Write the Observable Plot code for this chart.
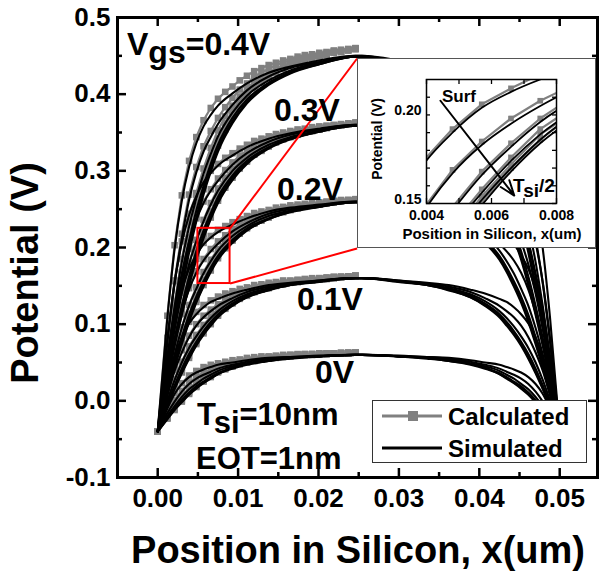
<!DOCTYPE html>
<html><head><meta charset="utf-8">
<script src="https://cdn.jsdelivr.net/npm/d3@7"></script>
<script src="https://cdn.jsdelivr.net/npm/@observablehq/plot@0.6"></script>
<style>
body{margin:0;background:#fff;}
#wrap{position:relative;width:600px;height:576px;overflow:hidden;font-family:"Liberation Sans",Arial,sans-serif;font-weight:bold;color:#000;}
.t{position:absolute;white-space:nowrap;line-height:1;}
.sub{position:relative;}
</style></head><body><div id="wrap"></div>
<script>
// ---------------- data ----------------
const vgsFamilies = ["0V","0.1V","0.2V","0.3V","0.4V"];
const depthLabels = ["Surf","d2","d3","d4","d5","Tsi/2"];
const xCalc = [0,0.0012,0.0021,0.0030,0.0039,0.0048,0.0057,0.0066,0.0075,0.0084,0.0093,0.0102,0.0111,0.0120,0.0129,0.0138,0.0147,0.0156,0.0165,0.0174,0.0183,0.0192,0.0201,0.0210,0.0219,0.0228,0.0237,0.0246];
const xSim = [0,0.0012,0.0021,0.0030,0.0039,0.0048,0.0057,0.0066,0.0075,0.0093,0.0111,0.0138,0.0165,0.0201,0.0246,0.0254,0.0299,0.0335,0.0362,0.0389,0.0407,0.0425,0.0434,0.0443,0.0452,0.0461,0.0470,0.0479,0.0488,0.0500];

// Calculated (gray squares), one array per depth, Surf -> Tsi/2
const calc0V = [
[-0.04,-0.009,0.01,0.023,0.033,0.039,0.044,0.047,0.049,0.051,0.053,0.054,0.056,0.057,0.058,0.058,0.059,0.06,0.06,0.061,0.061,0.061,0.062,0.062,0.062,0.063,0.063,0.063],
[-0.04,-0.016,0.001,0.013,0.024,0.031,0.037,0.041,0.044,0.047,0.05,0.052,0.054,0.055,0.056,0.057,0.058,0.059,0.06,0.06,0.061,0.061,0.061,0.062,0.062,0.062,0.063,0.063],
[-0.04,-0.019,-0.006,0.006,0.016,0.024,0.031,0.036,0.041,0.045,0.047,0.05,0.052,0.054,0.055,0.056,0.057,0.058,0.059,0.06,0.06,0.061,0.061,0.061,0.062,0.062,0.062,0.063],
[-0.04,-0.022,-0.009,0.002,0.012,0.02,0.027,0.033,0.039,0.043,0.046,0.049,0.051,0.053,0.054,0.056,0.057,0.058,0.059,0.059,0.06,0.06,0.061,0.061,0.062,0.062,0.062,0.063],
[-0.04,-0.023,-0.01,0,0.01,0.019,0.026,0.032,0.038,0.042,0.045,0.048,0.05,0.052,0.054,0.055,0.057,0.058,0.058,0.059,0.06,0.06,0.061,0.061,0.062,0.062,0.062,0.063],
[-0.04,-0.023,-0.012,-0.001,0.009,0.018,0.025,0.031,0.037,0.041,0.045,0.048,0.05,0.052,0.054,0.055,0.056,0.057,0.058,0.059,0.06,0.06,0.061,0.061,0.062,0.062,0.062,0.063]];
const calc01V = [
[-0.04,0.021,0.059,0.085,0.103,0.116,0.125,0.131,0.136,0.14,0.143,0.146,0.148,0.151,0.152,0.154,0.155,0.157,0.157,0.158,0.159,0.16,0.16,0.161,0.162,0.162,0.162,0.163],
[-0.04,0.008,0.04,0.066,0.085,0.1,0.111,0.119,0.126,0.132,0.137,0.141,0.144,0.148,0.15,0.152,0.154,0.155,0.156,0.157,0.158,0.159,0.16,0.16,0.161,0.162,0.162,0.163],
[-0.04,0.001,0.028,0.051,0.071,0.086,0.099,0.11,0.12,0.127,0.132,0.137,0.141,0.145,0.147,0.15,0.152,0.154,0.155,0.157,0.158,0.158,0.159,0.16,0.161,0.161,0.162,0.163],
[-0.04,-0.004,0.021,0.043,0.063,0.079,0.093,0.105,0.115,0.123,0.129,0.135,0.139,0.143,0.146,0.148,0.151,0.153,0.154,0.156,0.157,0.158,0.159,0.16,0.161,0.161,0.162,0.163],
[-0.04,-0.006,0.018,0.039,0.059,0.076,0.09,0.102,0.113,0.121,0.128,0.134,0.138,0.142,0.145,0.148,0.15,0.152,0.154,0.155,0.157,0.157,0.158,0.159,0.16,0.161,0.162,0.163],
[-0.04,-0.007,0.016,0.037,0.056,0.074,0.088,0.1,0.111,0.12,0.127,0.133,0.137,0.142,0.145,0.147,0.15,0.152,0.154,0.155,0.157,0.157,0.158,0.159,0.16,0.161,0.162,0.163]];
const calc02V = [
[-0.04,0.052,0.107,0.146,0.174,0.192,0.206,0.215,0.223,0.228,0.233,0.237,0.241,0.245,0.247,0.249,0.252,0.253,0.255,0.256,0.257,0.258,0.259,0.26,0.261,0.262,0.262,0.263],
[-0.04,0.032,0.079,0.116,0.147,0.169,0.185,0.198,0.208,0.216,0.224,0.23,0.235,0.24,0.243,0.246,0.249,0.252,0.253,0.254,0.256,0.257,0.258,0.259,0.26,0.261,0.262,0.263],
[-0.04,0.021,0.061,0.096,0.125,0.148,0.168,0.184,0.198,0.209,0.217,0.225,0.231,0.236,0.24,0.243,0.247,0.249,0.251,0.253,0.255,0.256,0.257,0.259,0.26,0.261,0.261,0.262],
[-0.04,0.014,0.051,0.084,0.113,0.138,0.158,0.176,0.192,0.203,0.213,0.221,0.228,0.234,0.237,0.241,0.245,0.248,0.25,0.252,0.254,0.255,0.256,0.258,0.259,0.26,0.261,0.262],
[-0.04,0.011,0.047,0.078,0.107,0.132,0.154,0.172,0.189,0.2,0.21,0.22,0.226,0.232,0.236,0.24,0.244,0.247,0.249,0.252,0.254,0.255,0.256,0.258,0.259,0.26,0.261,0.262],
[-0.04,0.009,0.044,0.075,0.104,0.129,0.151,0.17,0.186,0.199,0.209,0.218,0.225,0.231,0.235,0.239,0.244,0.246,0.249,0.251,0.253,0.255,0.256,0.258,0.259,0.26,0.261,0.262]];
const calc03V = [
[-0.04,0.082,0.156,0.208,0.244,0.269,0.287,0.3,0.309,0.317,0.323,0.329,0.334,0.339,0.342,0.345,0.348,0.35,0.352,0.354,0.355,0.357,0.358,0.359,0.36,0.361,0.362,0.363],
[-0.04,0.055,0.119,0.168,0.209,0.238,0.26,0.276,0.29,0.301,0.311,0.32,0.326,0.333,0.337,0.341,0.345,0.348,0.35,0.352,0.354,0.355,0.357,0.358,0.359,0.36,0.361,0.363],
[-0.04,0.041,0.094,0.141,0.18,0.21,0.236,0.258,0.277,0.291,0.302,0.312,0.32,0.327,0.332,0.337,0.341,0.345,0.347,0.35,0.352,0.354,0.355,0.357,0.359,0.36,0.361,0.362],
[-0.04,0.032,0.082,0.125,0.164,0.197,0.224,0.247,0.268,0.284,0.296,0.308,0.316,0.324,0.329,0.334,0.339,0.343,0.346,0.349,0.351,0.353,0.354,0.356,0.358,0.359,0.361,0.362],
[-0.04,0.027,0.076,0.117,0.156,0.189,0.218,0.242,0.264,0.28,0.293,0.305,0.313,0.322,0.327,0.332,0.338,0.342,0.345,0.348,0.351,0.352,0.354,0.356,0.358,0.359,0.361,0.362],
[-0.04,0.025,0.072,0.113,0.151,0.185,0.214,0.239,0.261,0.278,0.291,0.303,0.312,0.321,0.326,0.332,0.337,0.341,0.344,0.347,0.35,0.352,0.354,0.356,0.358,0.359,0.361,0.362]];
const calc04V = [
[-0.04,0.111,0.203,0.268,0.313,0.344,0.366,0.382,0.394,0.403,0.41,0.418,0.424,0.43,0.434,0.438,0.441,0.444,0.446,0.449,0.451,0.452,0.454,0.455,0.457,0.458,0.459,0.46],
[-0.04,0.078,0.157,0.218,0.269,0.305,0.332,0.352,0.369,0.383,0.395,0.406,0.414,0.423,0.428,0.433,0.438,0.441,0.444,0.446,0.449,0.451,0.452,0.454,0.456,0.457,0.458,0.46],
[-0.04,0.06,0.127,0.185,0.233,0.271,0.303,0.33,0.353,0.371,0.385,0.397,0.407,0.416,0.422,0.428,0.433,0.437,0.441,0.444,0.447,0.449,0.451,0.453,0.455,0.456,0.458,0.459],
[-0.04,0.049,0.111,0.165,0.213,0.254,0.287,0.317,0.342,0.362,0.377,0.392,0.402,0.412,0.418,0.424,0.431,0.435,0.439,0.442,0.445,0.448,0.45,0.452,0.454,0.456,0.458,0.459],
[-0.04,0.044,0.104,0.155,0.203,0.245,0.281,0.311,0.337,0.357,0.374,0.389,0.399,0.409,0.416,0.422,0.429,0.434,0.438,0.441,0.445,0.447,0.449,0.451,0.454,0.455,0.457,0.459],
[-0.04,0.041,0.099,0.15,0.198,0.24,0.276,0.306,0.333,0.354,0.371,0.386,0.397,0.408,0.415,0.421,0.428,0.433,0.437,0.441,0.444,0.446,0.449,0.451,0.454,0.455,0.457,0.459]];

// Simulated (black lines), x = xSim, Surf -> Tsi/2
const sim0V = [
[-0.04,-0.01,0.009,0.022,0.031,0.037,0.041,0.044,0.047,0.05,0.053,0.056,0.057,0.059,0.06, 0.06,0.059,0.057,0.056,0.053,0.05,0.047,0.044,0.041,0.037,0.031,0.022,0.009,-0.01,-0.04],
[-0.04,-0.016,-0.001,0.012,0.022,0.029,0.034,0.038,0.042,0.047,0.051,0.055,0.057,0.058,0.06, 0.06,0.058,0.057,0.055,0.051,0.047,0.042,0.038,0.034,0.029,0.022,0.012,-0.001,-0.016,-0.04],
[-0.04,-0.02,-0.007,0.005,0.015,0.022,0.029,0.034,0.039,0.045,0.049,0.054,0.056,0.058,0.06, 0.06,0.058,0.056,0.054,0.049,0.045,0.039,0.034,0.029,0.022,0.015,0.005,-0.007,-0.02,-0.04],
[-0.04,-0.022,-0.01,0.001,0.011,0.019,0.025,0.031,0.036,0.043,0.048,0.053,0.056,0.058,0.06, 0.06,0.058,0.056,0.053,0.048,0.043,0.036,0.031,0.025,0.019,0.011,0.001,-0.01,-0.022,-0.04],
[-0.04,-0.023,-0.011,-0.001,0.009,0.017,0.024,0.03,0.035,0.043,0.048,0.052,0.056,0.058,0.06, 0.06,0.058,0.056,0.052,0.048,0.043,0.035,0.03,0.024,0.017,0.009,-0.001,-0.011,-0.023,-0.04],
[-0.04,-0.024,-0.012,-0.002,0.008,0.016,0.023,0.029,0.035,0.042,0.047,0.052,0.055,0.058,0.06, 0.06,0.058,0.055,0.052,0.047,0.042,0.035,0.029,0.023,0.016,0.008,-0.002,-0.012,-0.024,-0.04]];
const sim01V = [
[-0.04,0.02,0.057,0.083,0.101,0.113,0.122,0.129,0.133,0.14,0.145,0.151,0.154,0.157,0.16, 0.16,0.157,0.154,0.151,0.145,0.14,0.133,0.129,0.122,0.113,0.101,0.083,0.057,0.02,-0.04],
[-0.04,0.007,0.039,0.063,0.083,0.098,0.109,0.117,0.124,0.134,0.142,0.149,0.153,0.157,0.16, 0.16,0.157,0.153,0.149,0.142,0.134,0.124,0.117,0.109,0.098,0.083,0.063,0.039,0.007,-0.04],
[-0.04,0,0.027,0.05,0.069,0.084,0.097,0.108,0.117,0.13,0.139,0.147,0.152,0.156,0.16, 0.16,0.156,0.152,0.147,0.139,0.13,0.117,0.108,0.097,0.084,0.069,0.05,0.027,0,-0.04],
[-0.04,-0.004,0.02,0.042,0.061,0.077,0.091,0.103,0.113,0.127,0.137,0.146,0.151,0.156,0.16, 0.16,0.156,0.151,0.146,0.137,0.127,0.113,0.103,0.091,0.077,0.061,0.042,0.02,-0.004,-0.04],
[-0.04,-0.007,0.017,0.038,0.057,0.074,0.088,0.1,0.111,0.125,0.135,0.145,0.151,0.156,0.16, 0.16,0.156,0.151,0.145,0.135,0.125,0.111,0.1,0.088,0.074,0.057,0.038,0.017,-0.007,-0.04],
[-0.04,-0.008,0.015,0.036,0.055,0.072,0.086,0.098,0.109,0.124,0.135,0.144,0.151,0.155,0.16, 0.16,0.155,0.151,0.144,0.135,0.124,0.109,0.098,0.086,0.072,0.055,0.036,0.015,-0.008,-0.04]];
const sim02V = [
[-0.04,0.051,0.106,0.145,0.172,0.19,0.204,0.213,0.22,0.23,0.238,0.247,0.252,0.256,0.26, 0.26,0.256,0.252,0.247,0.238,0.23,0.22,0.213,0.204,0.19,0.172,0.145,0.106,0.051,-0.04],
[-0.04,0.031,0.078,0.115,0.145,0.167,0.183,0.195,0.205,0.221,0.232,0.244,0.25,0.255,0.26, 0.26,0.255,0.25,0.244,0.232,0.221,0.205,0.195,0.183,0.167,0.145,0.115,0.078,0.031,-0.04],
[-0.04,0.02,0.06,0.095,0.124,0.146,0.166,0.182,0.196,0.215,0.228,0.241,0.248,0.254,0.259, 0.259,0.254,0.248,0.241,0.228,0.215,0.196,0.182,0.166,0.146,0.124,0.095,0.06,0.02,-0.04],
[-0.04,0.013,0.051,0.083,0.112,0.136,0.156,0.174,0.189,0.21,0.225,0.238,0.247,0.254,0.259, 0.259,0.254,0.247,0.238,0.225,0.21,0.189,0.174,0.156,0.136,0.112,0.083,0.051,0.013,-0.04],
[-0.04,0.01,0.046,0.077,0.106,0.131,0.152,0.17,0.186,0.208,0.223,0.237,0.247,0.253,0.259, 0.259,0.253,0.247,0.237,0.223,0.208,0.186,0.17,0.152,0.131,0.106,0.077,0.046,0.01,-0.04],
[-0.04,0.008,0.043,0.074,0.103,0.128,0.149,0.168,0.184,0.206,0.222,0.237,0.246,0.253,0.259, 0.259,0.253,0.246,0.237,0.222,0.206,0.184,0.168,0.149,0.128,0.103,0.074,0.043,0.008,-0.04]];
const sim03V = [
[-0.04,0.081,0.154,0.206,0.242,0.267,0.285,0.297,0.307,0.32,0.331,0.342,0.349,0.355,0.36, 0.36,0.355,0.349,0.342,0.331,0.32,0.307,0.297,0.285,0.267,0.242,0.206,0.154,0.081,-0.04],
[-0.04,0.054,0.118,0.166,0.207,0.236,0.258,0.274,0.287,0.308,0.323,0.338,0.347,0.354,0.36, 0.36,0.354,0.347,0.338,0.323,0.308,0.287,0.274,0.258,0.236,0.207,0.166,0.118,0.054,-0.04],
[-0.04,0.04,0.093,0.14,0.178,0.208,0.234,0.256,0.274,0.3,0.317,0.334,0.344,0.352,0.359, 0.359,0.352,0.344,0.334,0.317,0.3,0.274,0.256,0.234,0.208,0.178,0.14,0.093,0.04,-0.04],
[-0.04,0.031,0.081,0.124,0.162,0.195,0.222,0.245,0.266,0.294,0.313,0.331,0.343,0.352,0.359, 0.359,0.352,0.343,0.331,0.313,0.294,0.266,0.245,0.222,0.195,0.162,0.124,0.081,0.031,-0.04],
[-0.04,0.027,0.075,0.116,0.154,0.188,0.216,0.24,0.262,0.291,0.311,0.33,0.342,0.351,0.359, 0.359,0.351,0.342,0.33,0.311,0.291,0.262,0.24,0.216,0.188,0.154,0.116,0.075,0.027,-0.04],
[-0.04,0.024,0.071,0.112,0.15,0.184,0.212,0.237,0.258,0.288,0.309,0.329,0.341,0.351,0.359, 0.359,0.351,0.341,0.329,0.309,0.288,0.258,0.237,0.212,0.184,0.15,0.112,0.071,0.024,-0.04]];
const sim04V = [
[-0.04,0.108,0.198,0.261,0.305,0.336,0.358,0.373,0.385,0.401,0.414,0.428,0.436,0.444,0.45, 0.45,0.444,0.436,0.428,0.414,0.401,0.385,0.373,0.358,0.336,0.305,0.261,0.198,0.108,-0.04],
[-0.04,0.076,0.153,0.212,0.262,0.298,0.325,0.344,0.361,0.386,0.405,0.423,0.434,0.442,0.45, 0.45,0.442,0.434,0.423,0.405,0.386,0.361,0.344,0.325,0.298,0.262,0.212,0.153,0.076,-0.04],
[-0.04,0.058,0.123,0.181,0.227,0.264,0.296,0.322,0.345,0.376,0.398,0.418,0.431,0.441,0.449, 0.449,0.441,0.431,0.418,0.398,0.376,0.345,0.322,0.296,0.264,0.227,0.181,0.123,0.058,-0.04],
[-0.04,0.047,0.108,0.161,0.208,0.248,0.28,0.309,0.334,0.369,0.393,0.415,0.429,0.44,0.449, 0.449,0.44,0.429,0.415,0.393,0.369,0.334,0.309,0.28,0.248,0.208,0.161,0.108,0.047,-0.04],
[-0.04,0.042,0.101,0.151,0.198,0.239,0.274,0.303,0.329,0.365,0.39,0.413,0.428,0.439,0.449, 0.449,0.439,0.428,0.413,0.39,0.365,0.329,0.303,0.274,0.239,0.198,0.151,0.101,0.042,-0.04],
[-0.04,0.039,0.096,0.146,0.193,0.234,0.269,0.299,0.325,0.362,0.388,0.412,0.427,0.439,0.449, 0.449,0.439,0.427,0.412,0.388,0.362,0.325,0.299,0.269,0.234,0.193,0.146,0.096,0.039,-0.04]];

// axis ticks
const yMajor = [-0.1,0,0.1,0.2,0.3,0.4,0.5];
const yMinor = [-0.05,0.05,0.15,0.25,0.35,0.45];
const xMajor = [0,0.01,0.02,0.03,0.04,0.05];
const xMinor = [0.005,0.015,0.025,0.035,0.045];
const insetXTicks = [0.004,0.005,0.006,0.007,0.008];
const insetXLabels = [0.004,0.006,0.008];
const insetYLabels = [0.15,0.20];
const insetYTicks = [0.16,0.17,0.18,0.19,0.21];

// annotation anchors (data coordinates)
const zoomBox = [{x1:0.005,x2:0.009,y1:0.153,y2:0.225}];
const zoomLinks = [{x1:0.009,y1:0.225,x2:0.0248,y2:0.4465},{x1:0.009,y1:0.153,x2:0.0248,y2:0.1987}];
const surfArrow = [{x1:0.00443,y1:0.208,x2:0.0067,y2:0.1545}];

// ---------------- build ----------------
const calcFams = [calc0V,calc01V,calc02V,calc03V,calc04V];
const simFams = [sim0V,sim01V,sim02V,sim03V,sim04V];
function toRows(xs, fams, famIdx){
  const out=[];
  fams.forEach((fam,fi)=>{ if(famIdx!=null && fi!==famIdx) return;
    fam.forEach((ys,di)=>ys.forEach((y,i)=>out.push({x:xs[i],y,vgs:vgsFamilies[fi],depth:depthLabels[di],key:fi+"-"+di})));});
  return out;
}
const calcRows = toRows(xCalc, calcFams);
const simRows = toRows(xSim, simFams);
const calcInset = toRows(xCalc, calcFams, 2);
const simInset = toRows(xSim, simFams, 2);

const FONT = '"Liberation Sans", Arial, sans-serif';
const W = 600, H = 576, mL = 117, mR = 3, mT = 17, mB = 99;
const iw = W - mL - mR, ih = H - mT - mB;

const main = Plot.plot({
  width: W, height: H, marginLeft: mL, marginRight: mR, marginTop: mT, marginBottom: mB,
  x: {domain: [-0.005, 0.0547]},
  y: {domain: [-0.1, 0.5]},
  style: {fontFamily: FONT, fontWeight: "bold", background: "white", color: "black", overflow: "visible"},
  marks: [
    Plot.line(calcRows, {x: "x", y: "y", z: "key", stroke: "#808080", strokeWidth: 2.2}),
    Plot.dot(calcRows, {x: "x", y: "y", symbol: "square", fill: "#808080", r: 3.7}),
    Plot.line(simRows, {x: "x", y: "y", z: "key", stroke: "black", strokeWidth: 2.1, curve: "monotone-x"}),
    Plot.rect(zoomBox, {x1: "x1", x2: "x2", y1: "y1", y2: "y2", stroke: "red", strokeWidth: 2, fill: "none"}),
    Plot.link(zoomLinks, {x1: "x1", y1: "y1", x2: "x2", y2: "y2", stroke: "red", strokeWidth: 2}),
    Plot.tickY(yMajor, {y: d => d, insetRight: iw - 9, strokeWidth: 2.5}),
    Plot.tickY(yMajor, {y: d => d, insetLeft: iw - 9, strokeWidth: 2.5}),
    Plot.tickY(yMinor, {y: d => d, insetRight: iw - 5, strokeWidth: 2.5}),
    Plot.tickY(yMinor, {y: d => d, insetLeft: iw - 5, strokeWidth: 2.5}),
    Plot.tickX(xMajor, {x: d => d, insetTop: ih - 9, strokeWidth: 2.5}),
    Plot.tickX(xMajor, {x: d => d, insetBottom: ih - 9, strokeWidth: 2.5}),
    Plot.tickX(xMinor, {x: d => d, insetTop: ih - 5, strokeWidth: 2.5}),
    Plot.tickX(xMinor, {x: d => d, insetBottom: ih - 5, strokeWidth: 2.5}),
    Plot.frame({stroke: "black", strokeWidth: 3}),
    Plot.axisY(yMajor, {tickSize: 0, tickPadding: 7, tickFormat: d => d.toFixed(1), label: null, fontSize: 26, fontWeight: "bold"}),
    Plot.axisX(xMajor, {tickSize: 0, tickPadding: 11, tickFormat: d => d.toFixed(2), label: null, fontSize: 26, fontWeight: "bold"})
  ]
});
const wrap = document.getElementById("wrap");
main.style.position = "absolute"; main.style.left = "0px"; main.style.top = "0px";
wrap.appendChild(main);

// inset
const IX = 357, IY = 58, IW = 239, IH = 190;
const imL = 69, imR = 40, imT = 21, imB = 45;
const iiw = IW - imL - imR, iih = IH - imT - imB;
const inset = Plot.plot({
  width: IW, height: IH, marginLeft: imL, marginRight: imR, marginTop: imT, marginBottom: imB,
  x: {domain: [0.004, 0.008]},
  y: {domain: [0.15, 0.22]},
  style: {fontFamily: FONT, fontWeight: "bold", background: "white", color: "black"},
  marks: [
    Plot.line(calcInset, {x: "x", y: "y", z: "key", stroke: "#808080", strokeWidth: 2.2, clip: true}),
    Plot.dot(calcInset, {x: "x", y: "y", symbol: "square", fill: "#808080", r: 3.2, clip: true}),
    Plot.line(simInset, {x: "x", y: "y", z: "key", stroke: "black", strokeWidth: 1.8, curve: "monotone-x", clip: true}),
    Plot.arrow(surfArrow, {x1: "x1", y1: "y1", x2: "x2", y2: "y2", stroke: "black", strokeWidth: 2, headLength: 12, headAngle: 40}),
    Plot.tickX(insetXTicks, {x: d => d, insetTop: iih - 5, strokeWidth: 1.3}),
    Plot.tickX(insetXTicks, {x: d => d, insetBottom: iih - 5, strokeWidth: 1.3}),
    Plot.tickY(insetYLabels.concat(insetYTicks), {y: d => d, insetRight: iiw - 4, strokeWidth: 1.3}),
    Plot.tickY(insetYLabels.concat(insetYTicks), {y: d => d, insetLeft: iiw - 4, strokeWidth: 1.3}),
    Plot.frame({stroke: "black", strokeWidth: 1.5}),
    Plot.axisY(insetYLabels, {tickSize: 0, tickPadding: 5, dy: -4, tickFormat: d => d.toFixed(2), label: null, fontSize: 14, fontWeight: "bold"}),
    Plot.axisX(insetXLabels, {tickSize: 0, tickPadding: 7, tickFormat: d => d.toFixed(3), label: null, fontSize: 14, fontWeight: "bold"})
  ]
});
Object.assign(inset.style, {position: "absolute", left: IX + "px", top: IY + "px", outline: "1px solid #555", outlineOffset: "-1px"});
wrap.appendChild(inset);

// text helper: x = left (or center), baseline y
function addText(html, x, baseline, size, opt = {}) {
  const d = document.createElement("div");
  d.className = "t";
  d.style.fontSize = size + "px";
  d.style.left = x + "px";
  d.style.top = (baseline - 0.8465 * size) + "px";
  if (opt.center) d.style.transform = "translateX(-50%)";
  d.innerHTML = html;
  wrap.appendChild(d);
  return d;
}
function addRotated(text, cx, cy, size) {
  const d = document.createElement("div");
  d.className = "t";
  d.style.fontSize = size + "px";
  d.style.left = cx + "px"; d.style.top = cy + "px";
  d.style.transform = "translate(-50%,-50%) rotate(-90deg)";
  d.textContent = text;
  wrap.appendChild(d);
}
const sub = (s, dy) => `<span class="sub" style="top:${dy}px">${s}</span>`;

// axis titles
addText("Position in Silicon, x(um)", 358, 563, 38, {center: true});
addRotated("Potential (V)", 25, 273, 38);

// curve-family labels
addText("V" + sub("gs", 8) + "=0.4V", 127, 55, 32);
addText("0.3V", 274, 121, 32);
addText("0.2V", 277, 200, 32);
addText("0.1V", 297, 310, 32);
addText("0V", 315, 383, 32);
addText("T" + sub("si", 8) + "=10nm", 197, 425, 31);
addText("EOT=1nm", 196, 469, 31);

// inset texts
addText("Surf", 442, 102, 17);
addText("T" + sub("si", 5) + "/2", 513, 192, 19);
addText("Position in Silicon, x(um)", 492, 239, 15, {center: true});
addRotated("Potential (V)", 377, 139, 14);

// legend
const leg = document.createElement("div");
Object.assign(leg.style, {position: "absolute", left: "372px", top: "400px", width: "215px", height: "63px", boxSizing: "border-box", border: "1px solid #333", background: "white"});
leg.innerHTML = `<svg width="213" height="61" style="position:absolute;left:0;top:0">
<line x1="9" y1="15" x2="69" y2="15" stroke="#808080" stroke-width="3"/>
<rect x="35" y="10" width="10" height="10" fill="#808080"/>
<line x1="9" y1="47" x2="69" y2="47" stroke="black" stroke-width="3"/></svg>`;
wrap.appendChild(leg);
addText("Calculated", 448, 425, 24);
addText("Simulated", 448, 457, 24);
</script></body></html>
